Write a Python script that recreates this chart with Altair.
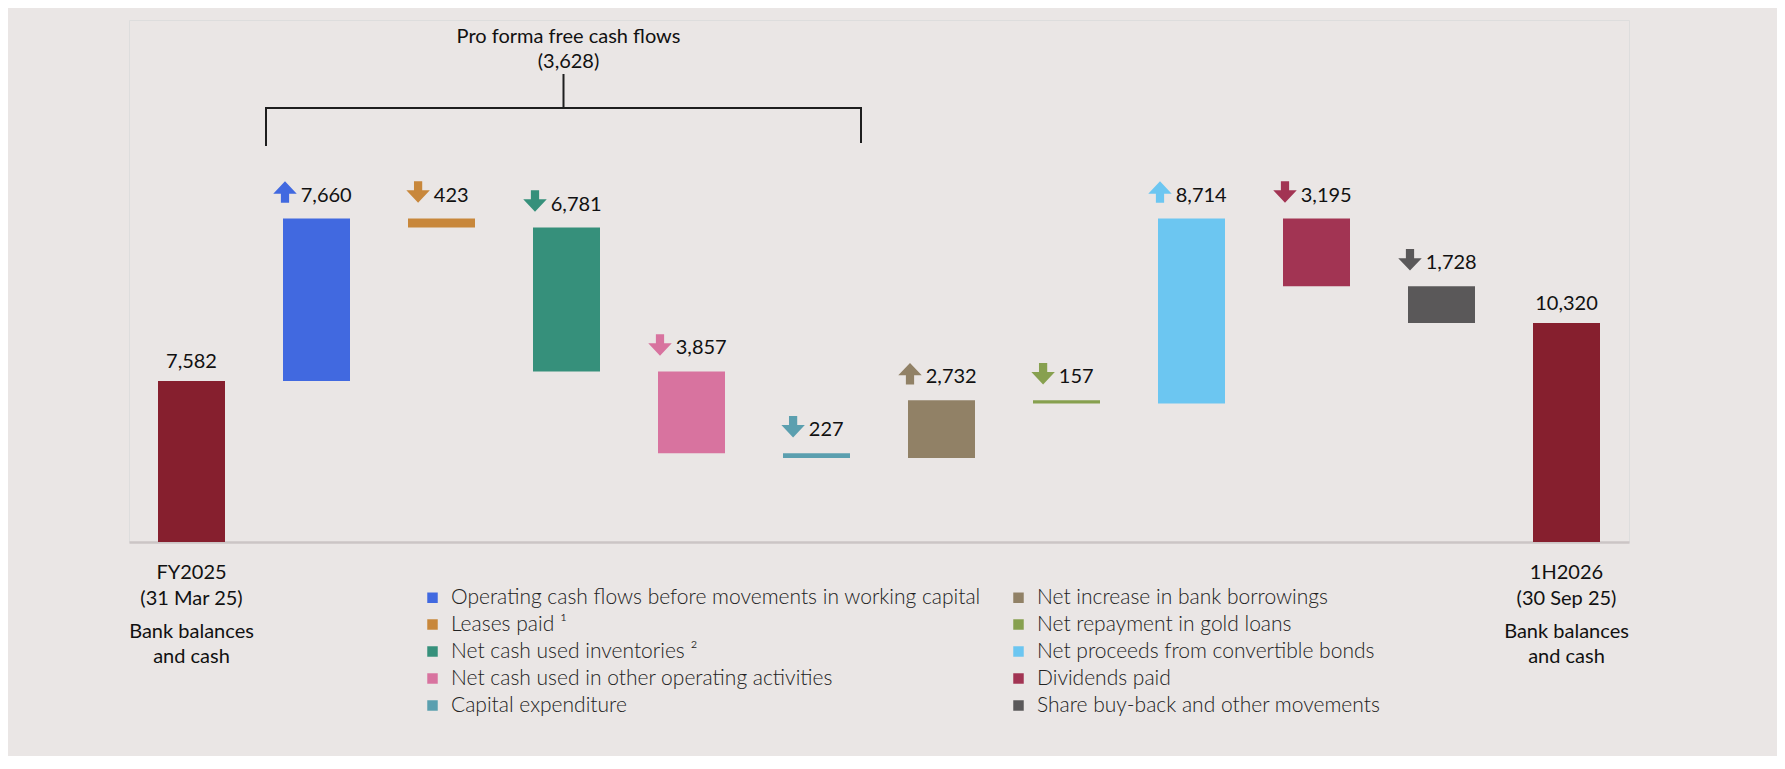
import altair as alt
import pandas as pd

# ------------------------------------------------------------------ data
opening_label_top = "FY2025\n(31 Mar 25)"
closing_label_top = "1H2026\n(30 Sep 25)"
balance_label_bottom = "Bank balances\nand cash"
opening_balance = 7582
closing_balance = 10320

flow_names = [
    "Operating cash flows before movements in working capital",
    "Leases paid ¹",
    "Net cash used inventories ²",
    "Net cash used in other operating activities",
    "Capital expenditure",
    "Net increase in bank borrowings",
    "Net repayment in gold loans",
    "Net proceeds from convertible bonds",
    "Dividends paid",
    "Share buy-back and other movements",
]
flow_values = [7660, -423, -6781, -3857, -227, 2732, -157, 8714, -3195, -1728]
flow_colors = ["#4169E0", "#C8873B", "#36907B", "#D8739F", "#5B9FAF",
               "#918166", "#87A04F", "#6CC6F1", "#A23453", "#5A5859"]
balance_color = "#861F2E"
pro_forma_count = 5
bracket_title = "Pro forma free cash flows"

# ------------------------------------------------------------------ layout constants
PLOT_W, PLOT_H = 1500, 522
YMAX = 24600
UNITS_PER_PX = YMAX / PLOT_H
STEP = PLOT_W / 12
HALF_BAR = 0.268
FONT = "Lato"
BG = "#EAE6E5"

# ------------------------------------------------------------------ derived tables
rows = []
running = opening_balance
for i, (n, v) in enumerate(zip(flow_names, flow_values)):
    start, end = running, running + v
    running = end
    rows.append({"idx": i + 1, "name": n, "start": start, "end": end,
                 "top": max(start, end), "lbl": f"{abs(v):,}",
                 "dir": "up" if v > 0 else "down"})
flows = pd.DataFrame(rows)

totals = pd.DataFrame({
    "idx": [0, 11],
    "value": [opening_balance, closing_balance],
    "zero": [0, 0],
    "lbl": [f"{opening_balance:,}", f"{closing_balance:,}"],
    "top_text": [opening_label_top, closing_label_top],
    "bottom_text": [balance_label_bottom, balance_label_bottom],
})

pf = sum(flow_values[:pro_forma_count])
pf_text = f"({abs(pf):,})" if pf < 0 else f"{pf:,}"
bl = 1 - 0.404
br = pro_forma_count + 0.356
bracket = pd.DataFrame({"bl": [bl], "br": [br], "bc": [(bl + br) / 2],
                        "title": [bracket_title + "\n" + pf_text]})

xscale = alt.Scale(domain=[-0.5, 11.5], nice=False, zero=False)
yscale = alt.Scale(domain=[0, YMAX], nice=False, zero=True)
XAX = alt.Axis(labels=False, ticks=False, grid=False, title=None, domain=True,
               domainColor="#CBC5C5", domainWidth=2.5, orient="bottom")
color_scale = alt.Scale(domain=flow_names, range=flow_colors)

UP = "M0,-0.915L1,0.146L0.35,0.146L0.35,0.915L-0.35,0.915L-0.35,0.146L-1,0.146Z"
DOWN = "M0,0.915L1,-0.146L0.35,-0.146L0.35,-0.915L-0.35,-0.915L-0.35,-0.146L-1,-0.146Z"

fbase = alt.Chart(flows).transform_calculate(
    x0=f"datum.idx - {HALF_BAR}",
    x1=f"datum.idx + {HALF_BAR}",
    hascomma="indexof(datum.lbl, ',') >= 0 ? 1 : 0",
).transform_calculate(
    tw="(length(datum.lbl) - datum.hascomma) * 11.6 + datum.hascomma * 4.6",
).transform_calculate(
    g="23.5 + 4 + datum.tw",
).transform_calculate(
    tx=f"datum.idx + (-4 - datum.g / 2 + 27.5) / {STEP}",
    ax=f"datum.idx + (-4 - datum.g / 2 + 11.75) / {STEP}",
    ay=f"datum.top + 26.5 * {UNITS_PER_PX}",
)

flow_bars = fbase.mark_bar().encode(
    x=alt.X("x0:Q", scale=xscale, axis=XAX),
    x2="x1:Q",
    y=alt.Y("start:Q", scale=yscale, axis=None),
    y2="end:Q",
    color=alt.Color("name:N", scale=color_scale, legend=alt.Legend(
        orient="none", legendX=293, legendY=567, columns=2, title=None,
        symbolType="square", symbolSize=110, symbolStrokeWidth=0,
        labelFont=FONT, labelFontSize=21, labelFontWeight=300,
        labelColor="#222222", labelLimit=800, labelOffset=8,
        rowPadding=5, columnPadding=27, padding=0)),
)

flow_text = fbase.mark_text(align="left", baseline="alphabetic", dy=-17,
                            font=FONT, fontSize=20, color="#111111").encode(
    x=alt.X("tx:Q", scale=xscale, axis=XAX),
    y=alt.Y("top:Q", scale=yscale, axis=None),
    text="lbl:N",
)

arrows_up = fbase.transform_filter("datum.dir == 'up'").mark_point(
    shape=UP, filled=True, size=552, opacity=1, strokeWidth=0).encode(
    x=alt.X("ax:Q", scale=xscale, axis=XAX),
    y=alt.Y("ay:Q", scale=yscale, axis=None),
    color=alt.Color("name:N", scale=color_scale, legend=None),
)
arrows_down = fbase.transform_filter("datum.dir == 'down'").mark_point(
    shape=DOWN, filled=True, size=552, opacity=1, strokeWidth=0).encode(
    x=alt.X("ax:Q", scale=xscale, axis=XAX),
    y=alt.Y("ay:Q", scale=yscale, axis=None),
    color=alt.Color("name:N", scale=color_scale, legend=None),
)

tbase = alt.Chart(totals).transform_calculate(
    x0=f"datum.idx - {HALF_BAR}", x1=f"datum.idx + {HALF_BAR}")

total_bars = tbase.mark_bar(color=balance_color).encode(
    x=alt.X("x0:Q", scale=xscale, axis=XAX),
    x2="x1:Q",
    y=alt.Y("value:Q", scale=yscale, axis=None),
    y2="zero:Q",
)
total_text = tbase.mark_text(align="center", baseline="alphabetic", dy=-13,
                             font=FONT, fontSize=20, color="#111111").encode(
    x=alt.X("idx:Q", scale=xscale, axis=XAX),
    y=alt.Y("value:Q", scale=yscale, axis=None),
    text="lbl:N",
)
cat_top = tbase.mark_text(align="center", baseline="alphabetic", dy=37,
                          lineBreak="\n", lineHeight=26,
                          font=FONT, fontSize=20, color="#111111").encode(
    x=alt.X("idx:Q", scale=xscale, axis=XAX),
    y=alt.Y("zero:Q", scale=yscale, axis=None),
    text="top_text:N",
)
cat_bottom = tbase.mark_text(align="center", baseline="alphabetic", dy=95.5,
                             lineBreak="\n", lineHeight=25,
                             font=FONT, fontSize=20, color="#111111").encode(
    x=alt.X("idx:Q", scale=xscale, axis=XAX),
    y=alt.Y("zero:Q", scale=yscale, axis=None),
    text="bottom_text:N",
)

bbase = alt.Chart(bracket)
RULE = dict(color="#1E1E1E", strokeWidth=2)
br_h = bbase.mark_rule(**RULE).encode(
    x=alt.X("bl:Q", scale=xscale, axis=XAX), x2="br:Q", y=alt.value(88))
br_l = bbase.mark_rule(**RULE).encode(
    x=alt.X("bl:Q", scale=xscale, axis=XAX), y=alt.value(87), y2=alt.value(126))
br_r = bbase.mark_rule(**RULE).encode(
    x=alt.X("br:Q", scale=xscale, axis=XAX), y=alt.value(87), y2=alt.value(123))
br_s = bbase.mark_rule(**RULE).encode(
    x=alt.X("bc:Q", scale=xscale, axis=XAX), y=alt.value(54), y2=alt.value(88))
br_t = bbase.mark_text(align="center", baseline="alphabetic", lineBreak="\n",
                       lineHeight=25, dx=5, font=FONT, fontSize=20,
                       color="#111111").encode(
    x=alt.X("bc:Q", scale=xscale, axis=XAX), y=alt.value(23), text="title:N")

chart = alt.layer(
    total_bars, flow_bars, arrows_up, arrows_down, flow_text, total_text,
    cat_top, cat_bottom, br_h, br_l, br_r, br_s, br_t,
).resolve_axis(x="shared", y="shared").resolve_scale(x="shared", y="shared").properties(
    width=PLOT_W, height=PLOT_H,
    padding={"left": 121, "top": 12, "right": 148, "bottom": 214},
    autosize=alt.AutoSizeParams(type="none"),
    background=BG,
).configure_view(
    stroke=BG, strokeWidth=4, strokeOpacity=1, fill=BG
).configure_axis(grid=False, domain=False, ticks=False, labels=False
).configure(font=FONT)

chart.save("out.html", embed_options={"renderer": "svg", "actions": False})
